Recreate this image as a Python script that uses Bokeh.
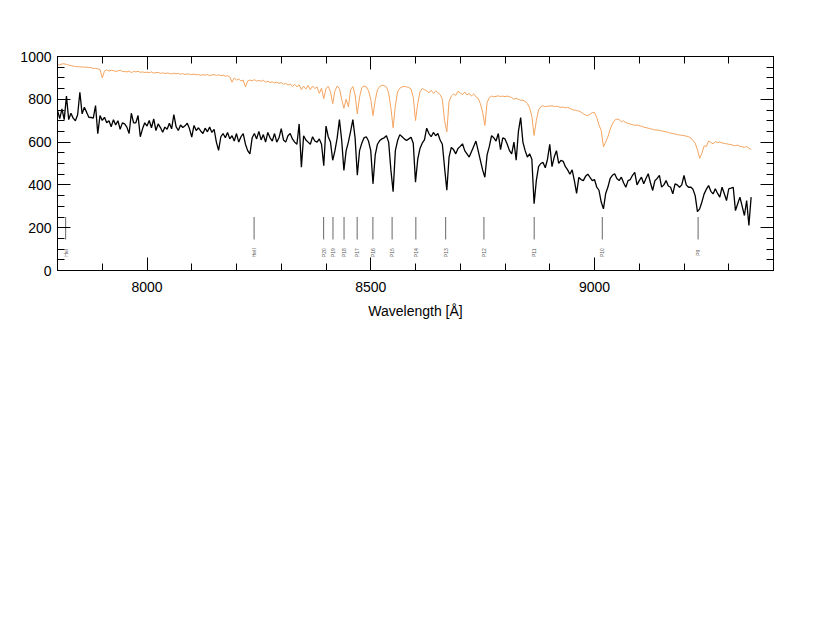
import numpy as np
from bokeh.plotting import figure
from bokeh.models import FixedTicker, LinearAxis, Range1d, CustomJSTickFormatter
from bokeh.embed import file_html
from bokeh.resources import INLINE
from bokeh.core.properties import value

# ---------------- data ----------------
# observed spectrum (black), sampled every 5 A from 7800 to 9350
black_wave = list(range(7800, 9351, 5))
black_flux = [
    748, 710, 755, 705, 815, 705, 735, 712, 700, 728,   # 7800
    833, 732, 763, 740, 716, 715, 712, 771, 639, 724,   # 7850
    701, 716, 690, 700, 672, 705, 680, 700, 660, 690,   # 7900
    685, 670, 640, 735, 690, 690, 724, 625, 662, 690,   # 7950
    675, 701, 667, 708, 654, 685, 668, 646, 670, 660,   # 8000
    688, 662, 728, 672, 654, 680, 668, 676, 688, 662,   # 8050
    623, 678, 654, 667, 652, 640, 665, 648, 670, 645,   # 8100
    660, 600, 561, 625, 640, 620, 645, 615, 630, 605,   # 8150
    640, 600, 625, 640, 590, 560, 545, 620, 640, 615,   # 8200
    650, 610, 635, 600, 645, 620, 605, 640, 600, 620,   # 8250
    663, 610, 600, 630, 640, 615, 600, 590, 685, 483,   # 8300
    630, 610, 600, 590, 625, 605, 600, 615, 590, 490,   # 8350
    675, 625, 600, 515, 560, 620, 705, 610, 468, 560,   # 8400
    600, 650, 705, 620, 445, 560, 595, 620, 625, 605,   # 8450
    560, 405, 540, 590, 607, 615, 620, 630, 600, 470,   # 8500
    368, 560, 607, 635, 625, 615, 607, 615, 623, 595,   # 8550
    413, 520, 570, 595, 610, 665, 640, 625, 645, 630,   # 8600
    640, 610, 590, 480, 375, 530, 575, 565, 545, 570,   # 8650
    580, 592, 560, 545, 530, 555, 580, 605, 560, 515,   # 8700
    470, 436, 540, 580, 630, 620, 605, 640, 565, 620,   # 8750
    615, 590, 560, 545, 600, 515, 650, 715, 600, 560,   # 8800
    530, 545, 520, 312, 420, 485, 500, 505, 480, 520,   # 8850
    590, 485, 530, 560, 500, 515, 510, 485, 470, 450,   # 8900
    470, 420, 360, 435, 425, 420, 440, 450, 435, 420,   # 8950
    425, 390, 375, 320, 288, 360, 390, 430, 445, 452,   # 9000
    430, 420, 436, 410, 389, 420, 425, 445, 459, 400,   # 9050
    420, 436, 405, 430, 452, 410, 374, 420, 430, 444,   # 9100
    390, 400, 420, 395, 389, 358, 405, 400, 389, 400,   # 9150
    444, 400, 389, 390, 380, 350, 275, 288, 320, 358,   # 9200
    380, 397, 370, 358, 382, 360, 343, 389, 360, 327,   # 9250
    382, 385, 389, 280, 312, 343, 300, 257, 327, 210,   # 9300
    343,                                                # 9350
]

# model spectrum (orange), sampled every 5 A from 7800 to 9350
model_wave = list(range(7800, 9351, 5))
model_flux = [
    960, 962, 965, 966, 963, 960, 958, 955, 953, 952,   # 7800
    952, 951, 950, 950, 949, 948, 944, 945, 942, 940,   # 7850
    900, 932, 938, 932, 936, 934, 930, 933, 936, 930,   # 7900
    930, 928, 932, 925, 930, 928, 931, 926, 928, 925,   # 7950
    927, 924, 928, 922, 925, 926, 921, 924, 920, 923,   # 8000
    921, 918, 922, 919, 921, 917, 920, 916, 919, 917,   # 8050
    915, 918, 914, 916, 912, 915, 913, 916, 910, 914,   # 8100
    915, 912, 914, 910, 913, 908, 910, 905, 880, 900,   # 8150
    890, 895, 885, 890, 858, 885, 890, 886, 892, 885,   # 8200
    888, 884, 889, 880, 885, 878, 882, 876, 880, 874,   # 8250
    878, 870, 875, 866, 872, 860, 870, 858, 868, 845,   # 8300
    862, 848, 865, 845, 862, 850, 858, 828, 852, 803,   # 8350
    850, 860, 835, 779, 840, 862, 850, 800, 758, 800,   # 8400
    765, 845, 860, 820, 732, 810, 855, 862, 858, 840,   # 8450
    800, 724, 795, 845, 860, 866, 864, 858, 830, 760,   # 8500
    667, 770, 835, 852, 858, 860, 858, 855, 848, 810,   # 8550
    701, 780, 835, 850, 845, 840, 830, 842, 828, 838,   # 8600
    832, 822, 800, 700, 648, 790, 815, 825, 818, 838,   # 8650
    830, 822, 834, 820, 828, 815, 825, 812, 805, 780,   # 8700
    740, 678, 785, 808, 815, 812, 814, 816, 813, 815,   # 8750
    812, 815, 812, 808, 800, 805, 800, 795, 796, 790,   # 8800
    780, 760, 720, 631, 700, 750, 765, 770, 765, 768,   # 8850
    768, 770, 766, 768, 765, 762, 764, 760, 762, 758,   # 8900
    752, 750, 748, 745, 740, 732, 726, 724, 730, 738,   # 8950
    738, 715, 680, 654, 578, 600, 625, 660, 685, 702,   # 9000
    708, 705, 695, 700, 690, 688, 684, 682, 678, 680,   # 9050
    676, 674, 670, 668, 665, 662, 660, 657, 656, 655,   # 9100
    652, 650, 648, 645, 642, 640, 638, 635, 633, 632,   # 9150
    630, 628, 625, 620, 608, 595, 565, 524, 548, 582,   # 9200
    580, 605, 598, 592, 602, 598, 600, 596, 594, 592,   # 9250
    590, 588, 585, 583, 586, 580, 578, 576, 579, 572,   # 9300
    565,                                                # 9350
]

# line identifications (vacuum wavelengths, A)
line_names = ["HeI", "HeII", "P20", "P19", "P18", "P17", "P16", "P15",
              "P14", "P13", "P12", "P11", "P10", "P9"]
line_waves = [7818.2, 8239.3, 8394.7, 8415.6, 8440.3, 8469.6, 8504.8, 8547.7,
              8600.8, 8667.4, 8752.9, 8865.2, 9017.4, 9231.5]
marker_low, marker_high, label_level = 145, 250, 83

x_major = [8000, 8500, 9000]
x_minor = list(range(7800, 9401, 100))
y_major = [0, 200, 400, 600, 800, 1000]
y_minor = list(range(0, 1001, 50))

n = min(len(black_wave), len(black_flux))
m = min(len(model_wave), len(model_flux))

FONT = "Liberation Sans"

p = figure(width=814, height=330,
           x_range=Range1d(7800, 9400), y_range=Range1d(0, 1000),
           output_backend="svg", toolbar_location=None,
           min_border_left=57, min_border_right=41,
           min_border_top=56, min_border_bottom=60)
p.background_fill_color = "white"
p.border_fill_color = "white"
p.outline_line_color = "black"
p.grid.visible = False

p.line(model_wave[:m], model_flux[:m], line_color="#F4A460", line_width=1)
p.line(black_wave[:n], black_flux[:n], line_color="black", line_width=1.3)

k = len(line_waves)
p.segment(x0=line_waves, y0=[marker_low] * k, x1=line_waves, y1=[marker_high] * k,
          line_color="#666666", line_width=1)
p.text(x=line_waves, y=[label_level] * k, text=line_names, angle=np.pi / 2,
       text_font=value(FONT), text_font_size="5px", text_color="#555555",
       text_align="center", text_baseline="middle")


def style(ax):
    ax.axis_line_color = "black"
    ax.axis_line_width = 1
    ax.major_tick_in = 13
    ax.major_tick_out = 0
    ax.minor_tick_in = 7
    ax.minor_tick_out = 0
    ax.major_tick_line_color = "black"
    ax.minor_tick_line_color = "black"
    ax.major_label_text_font = FONT
    ax.major_label_text_font_size = "14px"
    ax.major_label_text_color = "black"


xb = p.xaxis[0]
xb.ticker = FixedTicker(ticks=x_major, minor_ticks=x_minor)
style(xb)
xb.major_label_standoff = 11
xb.axis_label = "Wavelength [Å]"
xb.axis_label_text_font = FONT
xb.axis_label_text_font_size = "14px"
xb.axis_label_text_font_style = "normal"
xb.axis_label_text_color = "black"
xb.axis_label_standoff = 8

yl = p.yaxis[0]
yl.ticker = FixedTicker(ticks=y_major, minor_ticks=y_minor)
style(yl)
yl.major_label_standoff = 6

blank = "return ''"
xt = LinearAxis(ticker=FixedTicker(ticks=x_major, minor_ticks=x_minor),
                formatter=CustomJSTickFormatter(code=blank))
style(xt)
p.add_layout(xt, "above")
yr = LinearAxis(ticker=FixedTicker(ticks=y_major, minor_ticks=y_minor),
                formatter=CustomJSTickFormatter(code=blank))
style(yr)
p.add_layout(yr, "right")

open("out.html", "w").write(file_html(p, INLINE))
